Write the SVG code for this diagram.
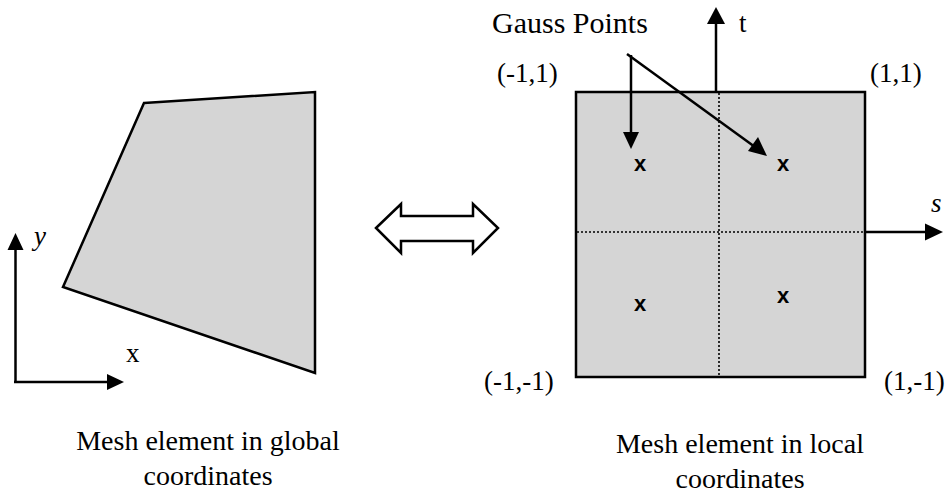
<svg xmlns="http://www.w3.org/2000/svg" width="949" height="496" viewBox="0 0 949 496">
<style>
  text { font-family: "Liberation Serif", "Times New Roman", serif; fill: #000; }
  .lbl { font-size: 27px; }
  .cap { font-size: 28px; text-anchor: middle; }
  .gp { font-family: "Liberation Sans", Arial, sans-serif; font-weight: bold; font-size: 22px; text-anchor: middle; }
  .shape { fill: #d5d5d5; stroke: #000; stroke-width: 2.5; stroke-linejoin: miter; }
  .axis { stroke: #000; stroke-width: 2.5; fill: none; }
  .dot { stroke: #000; stroke-width: 1.6; stroke-dasharray: 2 2; fill: none; }
  .head { fill: #000; stroke: none; }
</style>
<rect width="949" height="496" fill="#fff"/>

<g id="global-element">
  <polygon class="shape" points="144,103 315,92 315,373 63,287"/>
</g>

<g id="global-axes">
  <line class="axis" x1="15.5" y1="382" x2="15.5" y2="248"/>
  <polygon class="head" points="15.5,233 7.5,250 23.5,250"/>
  <line class="axis" x1="14" y1="382" x2="109" y2="382"/>
  <polygon class="head" points="124,382 107,374 107,390"/>
  <text class="lbl" x="34" y="245" font-style="italic">y</text>
  <text class="lbl" x="126" y="362">x</text>
</g>

<g id="double-arrow">
  <polygon points="376,228 401,204 401,216 473,216 473,204 498,228 473,253 473,241 401,241 401,253" fill="#fff" stroke="#000" stroke-width="2.5" stroke-linejoin="miter"/>
</g>

<g id="local-element">
  <rect class="shape" x="576" y="92" width="289" height="285"/>
  <line class="dot" x1="719" y1="93" x2="719" y2="376"/>
  <line class="dot" x1="577" y1="232" x2="864" y2="232"/>
  <text class="gp" x="640" y="171">x</text>
  <text class="gp" x="783" y="171">x</text>
  <text class="gp" x="640" y="311">x</text>
  <text class="gp" x="783" y="303">x</text>
</g>

<g id="local-axes">
  <line class="axis" x1="716" y1="92" x2="716" y2="21"/>
  <polygon class="head" points="716,7 707,24 725,24"/>
  <line class="axis" x1="865" y1="232" x2="927" y2="232"/>
  <polygon class="head" points="943,232 925,223.5 925,240.5"/>
  <text class="lbl" x="739" y="32">t</text>
  <text class="lbl" x="931" y="212" font-style="italic">s</text>
</g>

<g id="corner-labels">
  <text class="lbl" x="497" y="82">(-1,1)</text>
  <text class="lbl" x="870" y="82">(1,1)</text>
  <text class="lbl" x="484" y="390">(-1,-1)</text>
  <text class="lbl" x="884" y="390">(1,-1)</text>
</g>

<g id="gauss-label">
  <text x="492" y="33" style="font-size:30px">Gauss Points</text>
</g>

<g id="connectors">
  <line class="axis" x1="631" y1="55" x2="631" y2="135"/>
  <polygon class="head" points="631,149 623,132 639,132"/>
  <line class="axis" x1="627" y1="54" x2="755" y2="147"/>
  <polygon class="head" points="767,156 748,151 758,137"/>
</g>

<g id="captions">
  <text class="cap" x="208" y="450">Mesh element in global</text>
  <text class="cap" x="208" y="485">coordinates</text>
  <text class="cap" x="740" y="453">Mesh element in local</text>
  <text class="cap" x="740" y="488">coordinates</text>
</g>
</svg>
